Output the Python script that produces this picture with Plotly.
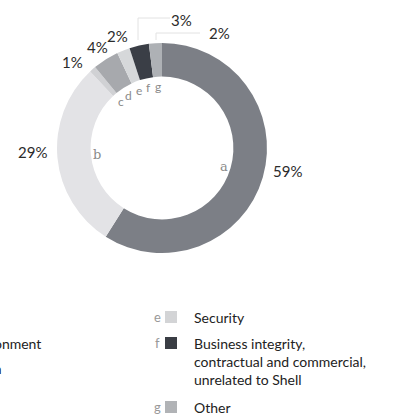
import math
import plotly.graph_objects as go

W, H = 401, 419

letters = ["a", "b", "c", "d", "e", "f", "g"]
values = [59, 29, 1, 4, 2, 3, 2]
pct_labels = ["59%", "29%", "1%", "4%", "2%", "3%", "2%"]
colors = ["#7c7f86", "#e3e3e6", "#d0d1d4", "#a7a9ad", "#d6d8da", "#3a3e46", "#aeb1b5"]

legend_letters = ["e", "f", "g"]
legend_texts = ["Security",
                "Business integrity,<br>contractual and commercial,<br>unrelated to Shell",
                "Other"]
legend_colors = ["#d3d4d6", "#3a3d44", "#b1b3b6"]
left_texts = ["Environment", "Operation"]

# donut geometry in pixels
cx, cy, R = 162, 148, 105


def px(x):
    return x / W


def py(y):
    return 1 - y / H


def note(x, y, text, size, color, family="Lato", **kw):
    args = dict(xanchor="center", yanchor="middle")
    args.update(kw)
    fig.add_annotation(x=px(x), y=py(y), xref="paper", yref="paper", text=text,
                       showarrow=False, font=dict(size=size, color=color, family=family),
                       **args)


fig = go.Figure()
fig.add_trace(go.Pie(labels=letters, values=values, hole=0.68, sort=False,
                     direction="clockwise", rotation=0,
                     marker=dict(colors=colors, line=dict(width=0)),
                     textinfo="none", hoverinfo="label+percent",
                     domain=dict(x=[px(cx - R), px(cx + R)], y=[py(cy + R), py(cy - R)]),
                     showlegend=False))

# label radius and nudges (pixels) so the small slices' labels don't collide
r_label = [131, 130, 125, 120, 120, 120, 120]
shift = {0: (0, -14), 1: (0, -8), 2: (-7, 8), 5: (46, -11), 6: (65, 5)}
total = sum(values)
cum = 0
for i, v in enumerate(values):
    mid = (cum + v / 2) / total * 2 * math.pi
    cum += v
    s, c = math.sin(mid), -math.cos(mid)
    dx, dy = shift.get(i, (0, 0))
    note(cx + r_label[i] * s + dx, cy + r_label[i] * c + dy, pct_labels[i], 15, "#2b2b2b")
    r_in = 65 if i < 2 else 62
    note(cx + r_in * s, cy + r_in * c, letters[i], 13 if i < 2 else 12, "#8a8a8a",
         family="DejaVu Serif" if i < 2 else "Lato")

# faint leader lines for f and g
for pts in ([(138, 40), (138, 18), (170, 18)], [(156, 40), (156, 33), (200, 33)]):
    for (x0, y0), (x1, y1) in zip(pts[:-1], pts[1:]):
        fig.add_shape(type="line", xref="paper", yref="paper",
                      x0=px(x0), y0=py(y0), x1=px(x1), y1=py(y1),
                      line=dict(color="#e2e2e2", width=1))

# legend (right column)
rows_y = [317, 343, 407]
for lt, txt, col, y in zip(legend_letters, legend_texts, legend_colors, rows_y):
    note(157, y, lt, 13, "#999")
    fig.add_shape(type="rect", xref="paper", yref="paper",
                  x0=px(165), x1=px(177), y0=py(y + 6), y1=py(y - 6),
                  fillcolor=col, line=dict(width=0))
    note(192, y - 10, txt, 14, "#222", xanchor="left", yanchor="top", align="left")

# legend (left column, cut off by the page edge)
for txt, xr, y in zip(left_texts, [43, 4], [343, 368]):
    note(xr, y, txt, 14, "#222", xanchor="right")

fig.update_layout(width=W, height=H, margin=dict(l=0, r=0, t=0, b=0),
                  paper_bgcolor="white", plot_bgcolor="white")
fig.write_html("out.html", config={"displayModeBar": False},
               post_script="document.body.style.margin='0';")
